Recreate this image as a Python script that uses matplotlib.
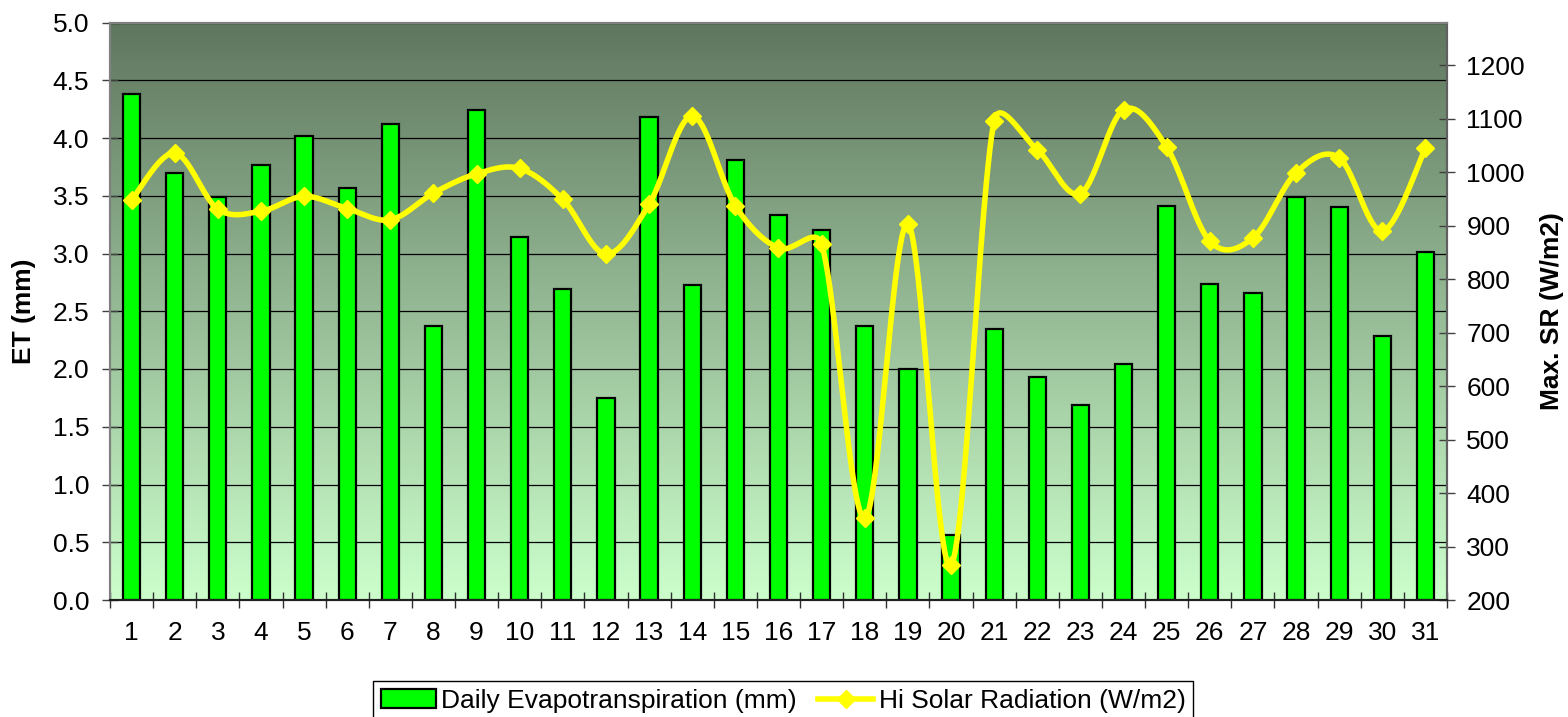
import numpy as np
import matplotlib
matplotlib.use("Agg")
import matplotlib.pyplot as plt
from matplotlib.patches import Patch
from matplotlib.lines import Line2D
from matplotlib.colors import LinearSegmentedColormap
from matplotlib.ticker import FixedLocator

plt.rcParams['font.family'] = ['Liberation Sans', 'DejaVu Sans']

# ---------------- data ----------------
days = list(range(1, 32))
day_labels = [str(d) for d in days]
et_mm = [4.38, 3.70, 3.49, 3.77, 4.02, 3.57, 4.12, 2.37, 4.24, 3.14,
         2.69, 1.75, 4.18, 2.73, 3.81, 3.33, 3.20, 2.37, 2.00, 0.56,
         2.35, 1.93, 1.69, 2.04, 3.41, 2.74, 2.66, 3.49, 3.40, 2.29, 3.01]
max_sr = [948, 1036, 931, 927, 955, 932, 911, 961, 997, 1007,
          949, 847, 940, 1105, 937, 858, 865, 353, 903, 265,
          1096, 1042, 960, 1117, 1047, 871, 877, 999, 1027, 890, 1045]
et_ticks = [0.0, 0.5, 1.0, 1.5, 2.0, 2.5, 3.0, 3.5, 4.0, 4.5, 5.0]
sr_ticks = [200, 300, 400, 500, 600, 700, 800, 900, 1000, 1100, 1200]

bar_label = "Daily Evapotranspiration (mm)"
line_label = "Hi Solar Radiation (W/m2)"
FS = 19

W, H = 1568, 717
fig = plt.figure(figsize=(W / 100, H / 100), dpi=100)
L, R, T, B = 110, 1447, 22.5, 600
ax = fig.add_axes([L / W, 1 - B / H, (R - L) / W, (B - T) / H])
ax2 = ax.twinx()

# background gradient
cmap = LinearSegmentedColormap.from_list("bg", ["#ccffcc", "#5f765f"])
grad = np.linspace(0, 1, 256).reshape(-1, 1)
ax.imshow(grad, extent=[0, 1, 0, 1], transform=ax.transAxes, aspect='auto',
          cmap=cmap, origin='lower', zorder=0, interpolation='bicubic')

# bars
ax.bar(days, et_mm, width=0.4, color='#00ff00', edgecolor='black',
       linewidth=1.6, zorder=3)
ax.set_xlim(0.5, 31.5)
ax.set_ylim(0, 5.0)
ax.set_yticks(et_ticks)
ax.set_yticklabels([f"{v:.1f}" for v in et_ticks])
ax.yaxis.grid(True, color='black', linewidth=0.9, zorder=1)
ax.set_axisbelow(True)

ax.set_xticks(days)
ax.set_xticklabels(day_labels)
ax.xaxis.set_minor_locator(FixedLocator(np.arange(0.5, 32, 1.0)))
ax.tick_params(axis='x', which='major', length=0, pad=15, labelsize=FS)
ax.tick_params(axis='x', which='minor', length=12, direction='inout',
               width=1.0, color='#303030')
ax.tick_params(axis='y', which='major', length=12, direction='inout',
               width=1.0, color='#404040', pad=9, labelsize=FS)

# right axis + smoothed line
ax2.set_ylim(200, 1280)
ax2.set_yticks(sr_ticks)
ax2.tick_params(axis='y', length=12, direction='inout', width=1.0,
                color='#404040', pad=8, labelsize=FS)
ax2.set_xlim(0.5, 31.5)


def smooth(axis, xs, ys, n=50):
    """Excel-like smoothing: Catmull-Rom Bezier handles, capped at half
    of the adjacent segment length to limit overshoot."""
    pts = axis.transData.transform(np.column_stack([xs, ys]))
    m = len(pts)
    hv = np.zeros_like(pts)
    for i in range(m):
        a = pts[max(i - 1, 0)]
        b = pts[min(i + 1, m - 1)]
        hv[i] = (b - a) / 6.0
    t = np.linspace(0, 1, n)[1:, None]
    out = [pts[:1]]
    for i in range(m - 1):
        p1, p2 = pts[i], pts[i + 1]
        seg_len = np.hypot(*(p2 - p1))
        cap = 0.5 * seg_len
        h1, h2 = hv[i], hv[i + 1]
        l1, l2 = np.hypot(*h1), np.hypot(*h2)
        if l1 > cap:
            h1 = h1 * cap / l1
        if l2 > cap:
            h2 = h2 * cap / l2
        c1 = p1 + h1
        c2 = p2 - h2
        seg = ((1 - t) ** 3) * p1 + 3 * (1 - t) ** 2 * t * c1 + \
              3 * (1 - t) * t ** 2 * c2 + t ** 3 * p2
        out.append(seg)
    return axis.transData.inverted().transform(np.vstack(out))


curve = smooth(ax2, days, max_sr)
ax2.plot(curve[:, 0], curve[:, 1], color='#ffff00', linewidth=4.0,
         solid_capstyle='round', solid_joinstyle='round', zorder=5)
ax2.plot(days, max_sr, linestyle='none', marker='D', markersize=9,
         color='#ffff00', zorder=6)

for a in (ax, ax2):
    a.spines['top'].set_color('#808080')
    a.spines['top'].set_linewidth(1.5)
    a.spines['left'].set_color('#808080')
    a.spines['left'].set_linewidth(1.5)
    a.spines['right'].set_color('#606060')
    a.spines['right'].set_linewidth(1.5)
    a.spines['bottom'].set_color('#202020')
    a.spines['bottom'].set_linewidth(1.5)

fig.text(24 / W, 1 - 311 / H, "ET (mm)", rotation=90, ha='center',
         va='center', fontsize=FS, fontweight='bold')
fig.text(1552 / W, 1 - 311 / H, "Max. SR (W/m2)", rotation=90,
         ha='center', va='center', fontsize=FS, fontweight='bold')

handles = [Patch(facecolor='#00ff00', edgecolor='black', linewidth=1.6),
           Line2D([0], [0], color='#ffff00', linewidth=4.0, marker='D',
                  markersize=9)]
leg = fig.legend(handles, [bar_label, line_label], loc='upper center',
                 bbox_to_anchor=(783 / W, 1 - 681 / H), ncol=2,
                 fontsize=FS, frameon=True, fancybox=False, shadow=False,
                 edgecolor='black', framealpha=1, borderpad=0.3,
                 handlelength=2.1, handleheight=0.7, handletextpad=0.2,
                 columnspacing=0.8, borderaxespad=0)
leg.get_frame().set_linewidth(1.0)

fig.savefig("out.png", dpi=100)
